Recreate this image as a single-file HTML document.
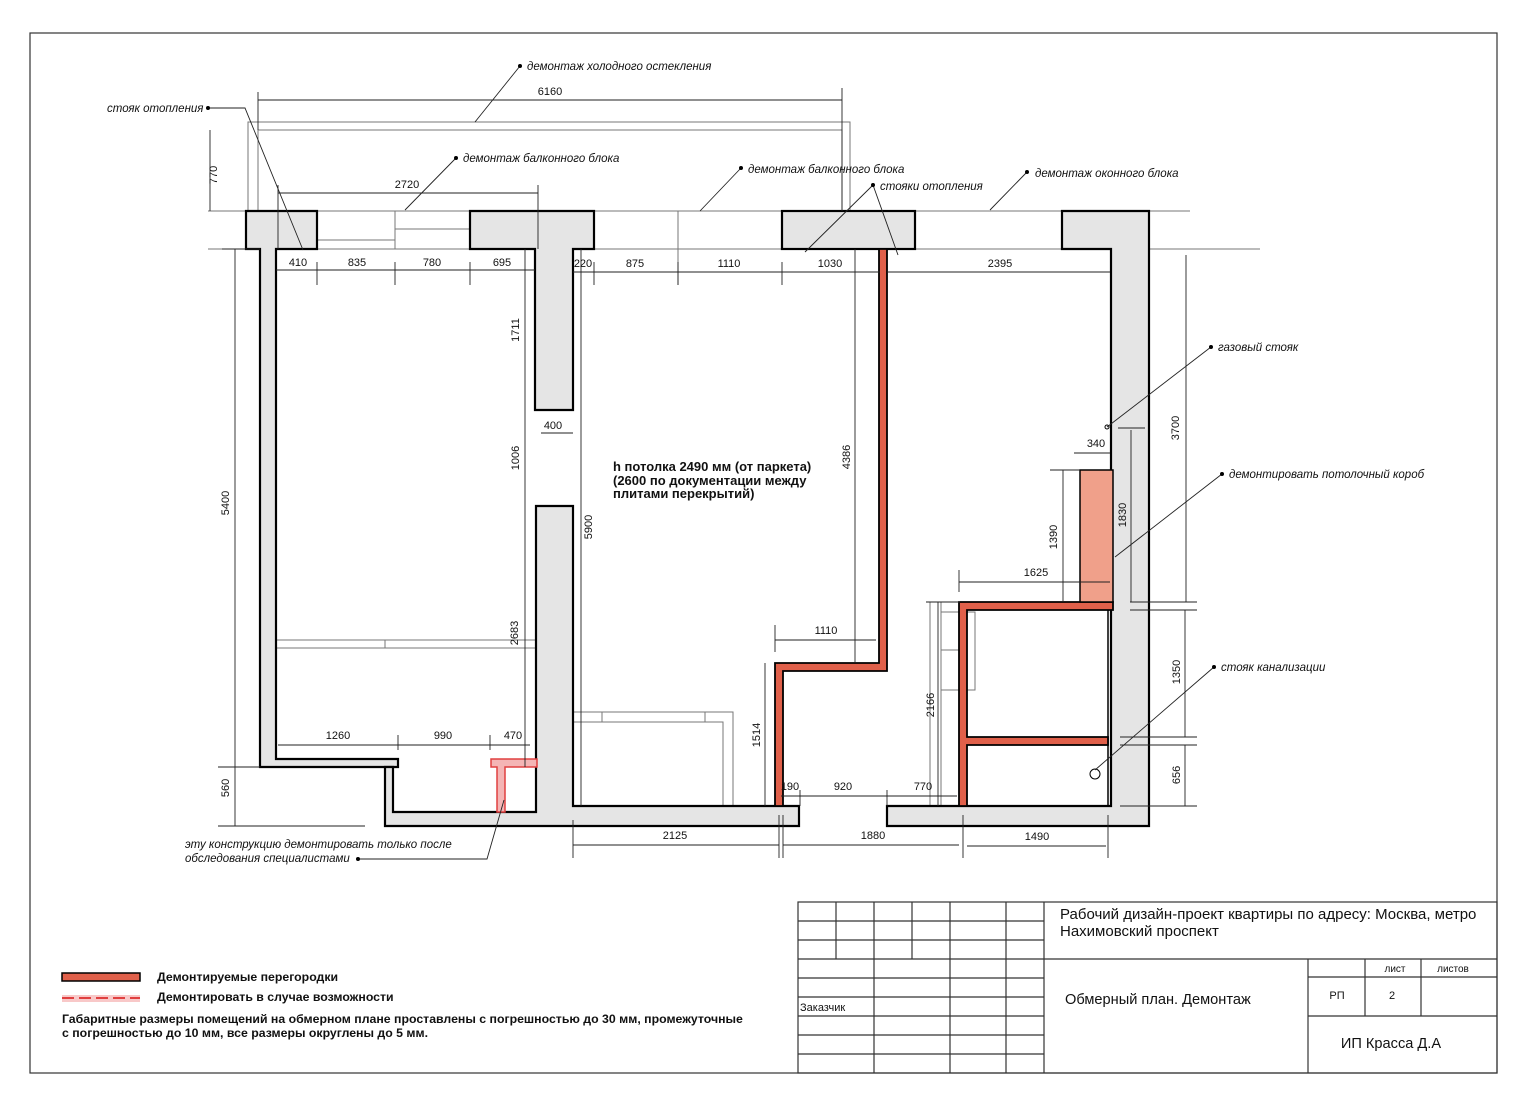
<!DOCTYPE html>
<html><head><meta charset="utf-8"><style>
html,body{margin:0;padding:0;background:#fff}
svg{display:block}
text{font-family:"Liberation Sans","DejaVu Sans",sans-serif;fill:#111}
.s{font-size:11px}
.i{font-size:11.5px;font-style:italic}
.b{font-size:13px;font-weight:bold}
.t{font-size:15px}
</style></head><body>
<svg width="1528" height="1104" viewBox="0 0 1528 1104" xmlns="http://www.w3.org/2000/svg">
<rect x="30" y="33" width="1467" height="1040" fill="none" stroke="#333" stroke-width="1.2"/>

<g fill="none" stroke="#777" stroke-width="1">
<path d="M248 211 V122 H850 V211"/>
<path d="M258 211 V130 H842 V211"/>
<line x1="208" y1="211" x2="1190" y2="211"/>
<line x1="208" y1="249" x2="1260" y2="249"/>
<line x1="317" y1="240" x2="395" y2="240"/>
<line x1="395" y1="211" x2="395" y2="249"/>
<line x1="395" y1="229" x2="470" y2="229"/>
<line x1="678" y1="211" x2="678" y2="285"/>
<line x1="276" y1="640" x2="535" y2="640"/>
<line x1="276" y1="648" x2="535" y2="648"/>
<line x1="385" y1="640" x2="385" y2="648"/>
<path d="M573 712 H733 V806 M573 722 H723 V806 M602 712 V722 M705 712 V722"/>
<path d="M930 602 V806 M941 602 V806 M941 612 H959 M941 650 H959 M941 690 H959 M967 612 H975 V690 H967"/>
<line x1="1108" y1="610" x2="1108" y2="806" stroke="#000" stroke-width="1.5"/>
</g>

<g fill="#e5e5e5" stroke="#000" stroke-width="2.2">
<path d="M246 211 H317 V249 H276 V759 H398 V767 H260 V249 H246 Z"/>
<path d="M470 211 H594 V249 H573 V410 H535 V249 H470 Z"/>
<rect x="782" y="211" width="133" height="38"/>
<path d="M1062 211 H1149 V826 H887 V806 H1111 V249 H1062 Z"/>
<path d="M385 767 H393 V812 H536 V506 H573 V806 H799 V826 H385 Z"/>
</g>

<g fill="#e0604a" stroke="#000" stroke-width="1.8">
<path d="M879 249 H887 V671 H783 V806 H775 V663 H879 Z"/>
<path d="M959 602 H1113 V610 H967 V737 H1108 V745 H967 V806 H959 Z"/>
</g>
<rect x="1080" y="470" width="33" height="132" fill="#f0a08a" stroke="#000" stroke-width="1.5"/>
<g fill="#f4b5b5" stroke="#e04040" stroke-width="1.5">
<path d="M491 759 H537 V767 H505 V812 H497 V767 H491 Z"/>
</g>
<circle cx="1095" cy="774" r="5" fill="none" stroke="#000"/>
<circle cx="1107" cy="427" r="2" fill="none" stroke="#000"/>

<g stroke="#222" stroke-width="0.9" fill="none">
<line x1="258" y1="100" x2="842" y2="100"/><line x1="258" y1="92" x2="258" y2="130"/><line x1="842" y1="88" x2="842" y2="211"/>
<line x1="210" y1="130" x2="210" y2="211"/>
<line x1="278" y1="193" x2="538" y2="193"/><line x1="278" y1="185" x2="278" y2="249"/><line x1="538" y1="185" x2="538" y2="249"/>
<line x1="276" y1="270" x2="535" y2="270"/>
<line x1="317" y1="262" x2="317" y2="285"/><line x1="395" y1="262" x2="395" y2="285"/><line x1="470" y1="262" x2="470" y2="285"/>
<line x1="573" y1="272" x2="880" y2="272"/>
<line x1="594" y1="262" x2="594" y2="285"/><line x1="678" y1="262" x2="678" y2="285"/><line x1="782" y1="262" x2="782" y2="285"/>
<line x1="887" y1="272" x2="1110" y2="272"/>
<line x1="235" y1="249" x2="235" y2="767"/><line x1="222" y1="249" x2="260" y2="249"/>
<line x1="235" y1="767" x2="235" y2="826"/><line x1="218" y1="826" x2="365" y2="826"/><line x1="218" y1="767" x2="260" y2="767"/>
<line x1="525" y1="249" x2="525" y2="767"/>
<line x1="541" y1="433" x2="573" y2="433"/>
<line x1="581" y1="249" x2="581" y2="806"/>
<line x1="855" y1="249" x2="855" y2="663"/>
<line x1="278" y1="745" x2="530" y2="745"/>
<line x1="398" y1="735" x2="398" y2="750"/><line x1="490" y1="735" x2="490" y2="750"/>
<line x1="775" y1="640" x2="876" y2="640"/><line x1="775" y1="625" x2="775" y2="652"/>
<line x1="765" y1="663" x2="765" y2="806"/>
<line x1="781" y1="796" x2="957" y2="796"/><line x1="800" y1="790" x2="800" y2="806"/><line x1="887" y1="790" x2="887" y2="806"/>
<line x1="573" y1="820" x2="573" y2="858"/><line x1="779" y1="815" x2="779" y2="858"/><line x1="783" y1="815" x2="783" y2="858"/>
<line x1="963" y1="815" x2="963" y2="858"/><line x1="1108" y1="815" x2="1108" y2="858"/>
<line x1="573" y1="845" x2="779" y2="845"/><line x1="783" y1="845" x2="959" y2="845"/><line x1="967" y1="846" x2="1106" y2="846"/>
<line x1="938" y1="602" x2="938" y2="806"/><line x1="926" y1="602" x2="960" y2="602"/>
<line x1="959" y1="582" x2="1110" y2="582"/><line x1="959" y1="570" x2="959" y2="592"/>
<line x1="1063" y1="470" x2="1063" y2="602"/><line x1="1050" y1="470" x2="1080" y2="470"/>
<line x1="1074" y1="453" x2="1110" y2="453"/>
<line x1="1131" y1="430" x2="1131" y2="602"/><line x1="1118" y1="428" x2="1145" y2="428"/>
<line x1="1186" y1="255" x2="1186" y2="602"/>
<line x1="1185" y1="610" x2="1185" y2="737"/><line x1="1185" y1="745" x2="1185" y2="806"/>
<line x1="1130" y1="602" x2="1197" y2="602"/><line x1="1130" y1="610" x2="1197" y2="610"/>
<line x1="1120" y1="737" x2="1197" y2="737"/><line x1="1120" y1="745" x2="1197" y2="745"/><line x1="1120" y1="806" x2="1197" y2="806"/>
<path d="M520 66 L475 122"/>
<path d="M208 108 H245 L303 250"/>
<path d="M456 158 L405 210"/>
<path d="M741 168 L700 211"/>
<path d="M873 185 L805 252 M873 185 L898 255"/>
<path d="M1027 172 L990 210"/>
<path d="M1211 347 L1107 427"/>
<path d="M1222 474 L1115 557"/>
<path d="M1214 667 L1095 770"/>
<path d="M358 859 H487 L504 800"/>
</g>
<g fill="#000">
<circle cx="520" cy="66" r="2"/><circle cx="208" cy="108" r="2"/><circle cx="456" cy="158" r="2"/>
<circle cx="741" cy="168" r="2"/><circle cx="873" cy="185" r="2"/><circle cx="1027" cy="172" r="2"/>
<circle cx="1211" cy="347" r="2"/><circle cx="1222" cy="474" r="2"/><circle cx="1214" cy="667" r="2"/><circle cx="358" cy="859" r="2"/>
</g>

<g class="i">
<text x="527" y="70">демонтаж холодного остекления</text>
<text x="107" y="112">стояк отопления</text>
<text x="463" y="162">демонтаж балконного блока</text>
<text x="748" y="173">демонтаж балконного блока</text>
<text x="880" y="190">стояки отопления</text>
<text x="1035" y="177">демонтаж оконного блока</text>
<text x="1218" y="351">газовый стояк</text>
<text x="1229" y="478">демонтировать потолочный короб</text>
<text x="1221" y="671">стояк канализации</text>
<text x="185" y="848">эту конструкцию демонтировать только после</text>
<text x="185" y="862">обследования специалистами</text>
</g>
<g class="s" text-anchor="middle">
<text x="550" y="95">6160</text>
<text x="407" y="188">2720</text>
<text x="298" y="266">410</text><text x="357" y="266">835</text><text x="432" y="266">780</text><text x="502" y="266">695</text>
<text x="583" y="267">220</text><text x="635" y="267">875</text><text x="729" y="267">1110</text><text x="830" y="267">1030</text><text x="1000" y="267">2395</text>
<text x="553" y="429">400</text><text x="1096" y="447">340</text><text x="1036" y="576">1625</text><text x="826" y="634">1110</text>
<text x="338" y="739">1260</text><text x="443" y="739">990</text><text x="513" y="739">470</text>
<text x="790" y="790">190</text><text x="843" y="790">920</text><text x="923" y="790">770</text>
<text x="675" y="839">2125</text><text x="873" y="839">1880</text><text x="1037" y="840">1490</text>
<text transform="translate(217,175) rotate(-90)">770</text>
<text transform="translate(519,330) rotate(-90)">1711</text>
<text transform="translate(519,458) rotate(-90)">1006</text>
<text transform="translate(229,503) rotate(-90)">5400</text>
<text transform="translate(592,527) rotate(-90)">5900</text>
<text transform="translate(850,457) rotate(-90)">4386</text>
<text transform="translate(1179,428) rotate(-90)">3700</text>
<text transform="translate(1126,515) rotate(-90)">1830</text>
<text transform="translate(1057,537) rotate(-90)">1390</text>
<text transform="translate(518,633) rotate(-90)">2683</text>
<text transform="translate(760,735) rotate(-90)">1514</text>
<text transform="translate(934,705) rotate(-90)">2166</text>
<text transform="translate(1180,672) rotate(-90)">1350</text>
<text transform="translate(1180,775) rotate(-90)">656</text>
<text transform="translate(229,788) rotate(-90)">560</text>
</g>
<g class="b">
<text x="613" y="471">h потолка 2490 мм (от паркета)</text>
<text x="613" y="485">(2600 по документации между</text>
<text x="613" y="498">плитами перекрытий)</text>
</g>

<rect x="62" y="973" width="78" height="8" fill="#e0604a" stroke="#000" stroke-width="1.5"/>
<rect x="62" y="995" width="78" height="7" fill="#f8c8c8"/>
<line x1="62" y1="998" x2="140" y2="998" stroke="#e04040" stroke-width="2" stroke-dasharray="12,5"/>
<g style="font-size:12.3px;font-weight:bold">
<text x="157" y="981">Демонтируемые перегородки</text>
<text x="157" y="1001">Демонтировать в случае возможности</text>
<text x="62" y="1023">Габаритные размеры помещений на обмерном плане проставлены с погрешностью до 30 мм, промежуточные</text>
<text x="62" y="1037">с погрешностью до 10 мм, все размеры округлены до 5 мм.</text>
</g>

<g stroke="#333" stroke-width="1.2" fill="none">
<rect x="798" y="902" width="699" height="171"/>
<line x1="1044" y1="902" x2="1044" y2="1073"/>
<line x1="798" y1="921" x2="1044" y2="921"/><line x1="798" y1="940" x2="1044" y2="940"/>
<line x1="798" y1="959" x2="1497" y2="959"/>
<line x1="798" y1="978" x2="1044" y2="978"/><line x1="798" y1="997" x2="1044" y2="997"/>
<line x1="798" y1="1016" x2="1044" y2="1016"/><line x1="798" y1="1035" x2="1044" y2="1035"/><line x1="798" y1="1054" x2="1044" y2="1054"/>
<line x1="836" y1="902" x2="836" y2="959"/><line x1="912" y1="902" x2="912" y2="959"/>
<line x1="874" y1="902" x2="874" y2="1073"/><line x1="950" y1="902" x2="950" y2="1073"/><line x1="1006" y1="902" x2="1006" y2="1073"/>
<line x1="1308" y1="959" x2="1308" y2="1073"/>
<line x1="1308" y1="977" x2="1497" y2="977"/><line x1="1308" y1="1016" x2="1497" y2="1016"/>
<line x1="1365" y1="959" x2="1365" y2="1016"/><line x1="1421" y1="959" x2="1421" y2="1016"/>
</g>
<text class="t" x="1060" y="919">Рабочий дизайн-проект квартиры по адресу: Москва, метро</text>
<text class="t" x="1060" y="936">Нахимовский проспект</text>
<text x="1065" y="1004" style="font-size:14.6px">Обмерный план. Демонтаж</text>
<text x="800" y="1011" style="font-size:11px">Заказчик</text>
<text x="1395" y="972" text-anchor="middle" style="font-size:10px">лист</text>
<text x="1453" y="972" text-anchor="middle" style="font-size:10px">листов</text>
<text x="1337" y="999" text-anchor="middle" style="font-size:11px">РП</text>
<text x="1392" y="999" text-anchor="middle" style="font-size:11px">2</text>
<text x="1391" y="1048" text-anchor="middle" style="font-size:14.6px">ИП Красса Д.А</text>
</svg>
</body></html>
